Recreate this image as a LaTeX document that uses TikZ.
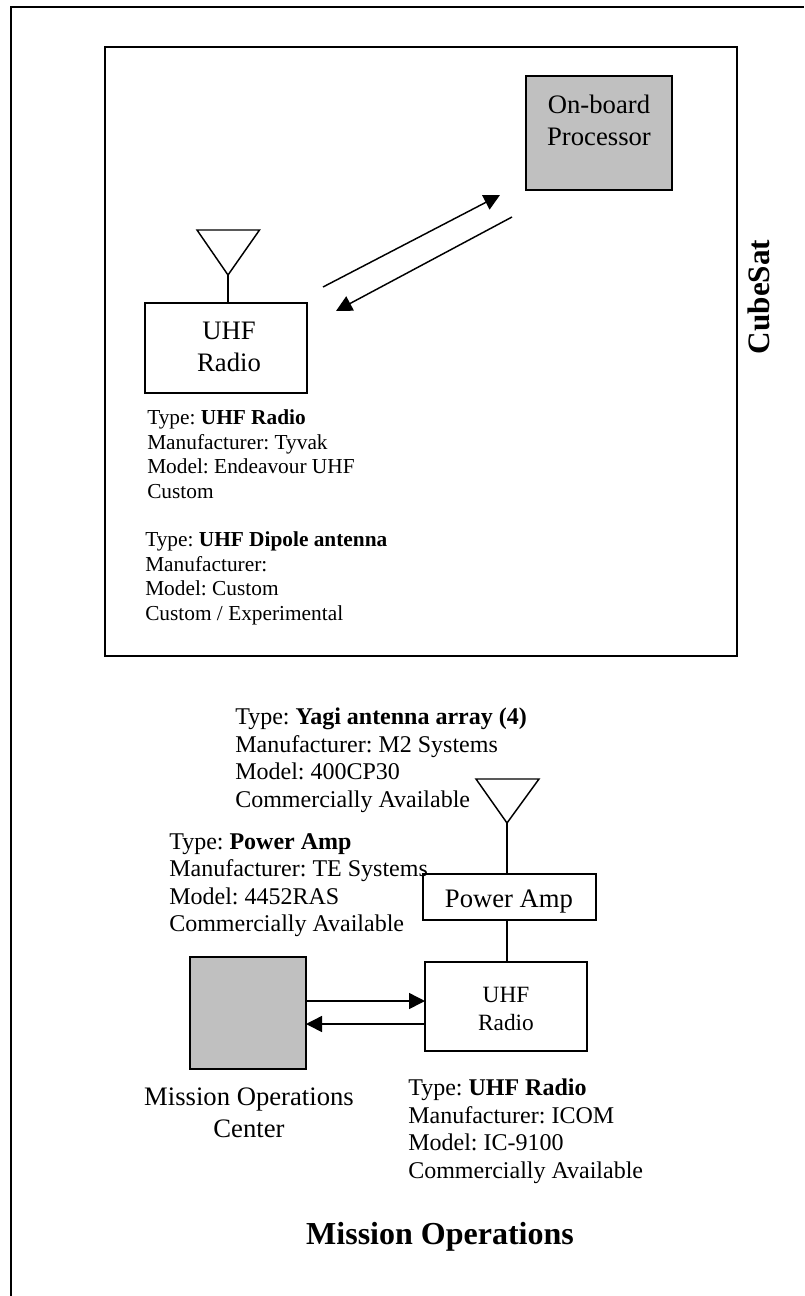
\documentclass[tikz,border=0pt]{standalone}
\usepackage{fontspec}
\setmainfont{Liberation Serif}
\usetikzlibrary{arrows.meta}
\frenchspacing
\tikzset{
  x=0.75pt,y=-0.75pt,
  line/.style={draw=black,line width=1.1pt},
  arr/.style={line,-{Triangle[length=12pt,width=12pt]}},
  blocktext/.style={anchor=north west,inner sep=0pt,align=left,font=\fontsize{16}{18.4}\selectfont\frenchspacing},
  bigtext/.style={anchor=north west,inner sep=0pt,align=left,font=\fontsize{18}{20.6}\selectfont\frenchspacing},
  lab/.style={inner sep=0pt,align=center,font=\fontsize{20}{24}\selectfont}
}
\definecolor{gr}{HTML}{C0C0C0}
\begin{document}
\begin{tikzpicture}
\useasboundingbox (0,0) rectangle (804,1296);
\fill[white] (0,0) rectangle (804,1296);
\coordinate (oa) at (11,1296); \coordinate (ob) at (11,7); \coordinate (oc) at (804,7);
\draw[line width=1.3pt] (oa) -- (ob) -- (oc);
\coordinate (ca) at (105,47); \coordinate (cb) at (737,656);
\draw[line width=1.3pt] (ca) rectangle (cb);
% on-board processor
\coordinate (pa) at (526,76); \coordinate (pb) at (672,190);
\draw[line width=1.3pt,fill=gr] (pa) rectangle (pb);
\node[lab] (ptext) at (599,120) {On-board\\Processor};
% top radio
\coordinate (ra) at (145,303); \coordinate (rb) at (307,393);
\draw[line width=1.3pt] (ra) rectangle (rb);
\node[lab] (rtext) at (229,347) {UHF\\Radio};
% antenna
\coordinate (t1) at (197,230); \coordinate (t2) at (259.5,230); \coordinate (t3) at (228,275); \coordinate (t4) at (228,303);
\draw[line width=1.1pt,line join=miter] (t1) -- (t2) -- (t3) -- cycle;
\draw[line] (t3) -- (t4);
\coordinate (a1) at (323,287); \coordinate (a2) at (500,195);
\coordinate (a3) at (512,217); \coordinate (a4) at (336,311);
\draw[arr] (a1) -- (a2);
\draw[arr] (a3) -- (a4);
\node[lab,rotate=90,font=\fontsize{23.4}{26}\selectfont\bfseries] (cube) at (759,297) {CubeSat};
\node[blocktext] (t1a) at (147,409.5) {Type: \textbf{UHF Radio}\\Manufacturer: Tyvak\\Model: Endeavour UHF\\Custom};
\node[blocktext] (t2a) at (145,531.5) {Type: \textbf{UHF Dipole antenna}\\Manufacturer:\\Model: Custom\\Custom / Experimental};
% lower
\node[bigtext] (y) at (235,708) {Type: \textbf{Yagi antenna array (4)}\\Manufacturer: M2 Systems\\Model: 400CP30\\Commercially Available};
\node[bigtext] (pw) at (169,833) {Type: \textbf{Power Amp}\\Manufacturer: TE Systems\\Model: 4452RAS\\Commercially Available};
\coordinate (u1) at (476,779); \coordinate (u2) at (539,779); \coordinate (u3) at (507,823); \coordinate (u4) at (507,874); \coordinate (u5) at (507,920); \coordinate (u6) at (507,962);
\draw[line width=1.1pt] (u1) -- (u2) -- (u3) -- cycle;
\draw[line] (u3) -- (u4);
\draw[line] (u5) -- (u6);
\coordinate (pwa) at (423,874); \coordinate (pwb) at (596,920);
\draw[line width=1.1pt] (pwa) rectangle (pwb);
\node[lab] (pwl) at (509,902) {Power Amp};
\coordinate (ua) at (425,962); \coordinate (ub) at (587,1051);
\draw[line width=1.1pt] (ua) rectangle (ub);
\node[lab,font=\fontsize{17.5}{21}\selectfont] (ul) at (506,1009) {UHF\\Radio};
\coordinate (ma) at (190,957); \coordinate (mb) at (306,1069);
\draw[line width=1.1pt,fill=gr] (ma) rectangle (mb);
\coordinate (b1) at (306,1001); \coordinate (b2) at (425,1001);
\coordinate (b3) at (425,1024); \coordinate (b4) at (306,1024);
\draw[arr] (b1) -- (b2);
\draw[arr] (b3) -- (b4);
\node[lab] (ml) at (249,1113) {Mission Operations\\Center};
\node[bigtext] (ut) at (408,1079) {Type: \textbf{UHF Radio}\\Manufacturer: ICOM\\Model: IC-9100\\Commercially Available};
\node[lab,font=\fontsize{24}{28}\selectfont\bfseries] (mo) at (440,1237) {Mission Operations};
\end{tikzpicture}
\end{document}
